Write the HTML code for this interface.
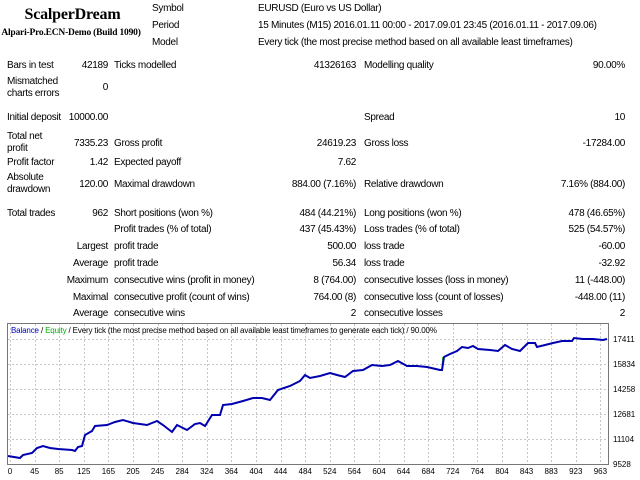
<!DOCTYPE html>
<html><head><meta charset="utf-8"><style>
body{margin:0;width:640px;height:480px;background:#fff;position:relative;overflow:hidden;font-family:"Liberation Sans",sans-serif;font-size:10px;letter-spacing:-0.3px;color:#000}
.t{position:absolute;white-space:nowrap;line-height:12px}
.r{position:absolute;white-space:nowrap;line-height:12px;text-align:right}
.ttl{position:absolute;font-family:"Liberation Serif",serif;font-weight:bold;white-space:nowrap;text-align:center;letter-spacing:-0.2px}
</style></head><body>
<div class="ttl" style="left:0;width:145px;top:6px;font-size:16px">ScalperDream</div>
<div class="ttl" style="left:0;width:142px;top:28px;font-size:9.5px">Alpari-Pro.ECN-Demo (Build 1090)</div>
<div class="t" style="left:152px;top:3px">Symbol</div>
<div class="t" style="left:152px;top:20px">Period</div>
<div class="t" style="left:152px;top:37px">Model</div>
<div class="t" style="left:258px;top:3px">EURUSD (Euro vs US Dollar)</div>
<div class="t" style="left:258px;top:20px">15 Minutes (M15) 2016.01.11 00:00 - 2017.09.01 23:45 (2016.01.11 - 2017.09.06)</div>
<div class="t" style="left:258px;top:37px">Every tick (the most precise method based on all available least timeframes)</div>

<div class="t" style="left:7px;top:60px">Bars in test</div><div class="r" style="right:532px;top:60px">42189</div>
<div class="t" style="left:114px;top:60px">Ticks modelled</div><div class="r" style="right:284px;top:60px">41326163</div>
<div class="t" style="left:364px;top:60px">Modelling quality</div><div class="r" style="right:15px;top:60px">90.00%</div>
<div class="t" style="left:7px;top:76px">Mismatched<br>charts errors</div><div class="r" style="right:532px;top:82px">0</div>
<div class="t" style="left:7px;top:112px">Initial deposit</div><div class="r" style="right:532px;top:112px">10000.00</div>
<div class="t" style="left:364px;top:112px">Spread</div><div class="r" style="right:15px;top:112px">10</div>
<div class="t" style="left:7px;top:131px">Total net<br>profit</div><div class="r" style="right:532px;top:138px">7335.23</div>
<div class="t" style="left:114px;top:138px">Gross profit</div><div class="r" style="right:284px;top:138px">24619.23</div>
<div class="t" style="left:364px;top:138px">Gross loss</div><div class="r" style="right:15px;top:138px">-17284.00</div>
<div class="t" style="left:7px;top:157px">Profit factor</div><div class="r" style="right:532px;top:157px">1.42</div>
<div class="t" style="left:114px;top:157px">Expected payoff</div><div class="r" style="right:284px;top:157px">7.62</div>
<div class="t" style="left:7px;top:172px">Absolute<br>drawdown</div><div class="r" style="right:532px;top:179px">120.00</div>
<div class="t" style="left:114px;top:179px">Maximal drawdown</div><div class="r" style="right:284px;top:179px">884.00 (7.16%)</div>
<div class="t" style="left:364px;top:179px">Relative drawdown</div><div class="r" style="right:15px;top:179px">7.16% (884.00)</div>
<div class="t" style="left:7px;top:208px">Total trades</div><div class="r" style="right:532px;top:208px">962</div>
<div class="t" style="left:114px;top:208px">Short positions (won %)</div><div class="r" style="right:284px;top:208px">484 (44.21%)</div>
<div class="t" style="left:364px;top:208px">Long positions (won %)</div><div class="r" style="right:15px;top:208px">478 (46.65%)</div>
<div class="t" style="left:114px;top:224px">Profit trades (% of total)</div><div class="r" style="right:284px;top:224px">437 (45.43%)</div>
<div class="t" style="left:364px;top:224px">Loss trades (% of total)</div><div class="r" style="right:15px;top:224px">525 (54.57%)</div>
<div class="r" style="right:532px;top:241px">Largest</div>
<div class="t" style="left:114px;top:241px">profit trade</div><div class="r" style="right:284px;top:241px">500.00</div>
<div class="t" style="left:364px;top:241px">loss trade</div><div class="r" style="right:15px;top:241px">-60.00</div>
<div class="r" style="right:532px;top:258px">Average</div>
<div class="t" style="left:114px;top:258px">profit trade</div><div class="r" style="right:284px;top:258px">56.34</div>
<div class="t" style="left:364px;top:258px">loss trade</div><div class="r" style="right:15px;top:258px">-32.92</div>
<div class="r" style="right:532px;top:275px">Maximum</div>
<div class="t" style="left:114px;top:275px">consecutive wins (profit in money)</div><div class="r" style="right:284px;top:275px">8 (764.00)</div>
<div class="t" style="left:364px;top:275px">consecutive losses (loss in money)</div><div class="r" style="right:15px;top:275px">11 (-448.00)</div>
<div class="r" style="right:532px;top:292px">Maximal</div>
<div class="t" style="left:114px;top:292px">consecutive profit (count of wins)</div><div class="r" style="right:284px;top:292px">764.00 (8)</div>
<div class="t" style="left:364px;top:292px">consecutive loss (count of losses)</div><div class="r" style="right:15px;top:292px">-448.00 (11)</div>
<div class="r" style="right:532px;top:308px">Average</div>
<div class="t" style="left:114px;top:308px">consecutive wins</div><div class="r" style="right:284px;top:308px">2</div>
<div class="t" style="left:364px;top:308px">consecutive losses</div><div class="r" style="right:15px;top:308px">2</div>

<svg width="640" height="480" style="position:absolute;left:0;top:0;letter-spacing:0" font-family="Liberation Sans, sans-serif">
<g stroke="#c8c8c8" stroke-dasharray="2,2" stroke-width="1">
<line x1="8" y1="339.5" x2="608" y2="339.5"/><line x1="8" y1="364.5" x2="608" y2="364.5"/><line x1="8" y1="389.5" x2="608" y2="389.5"/><line x1="8" y1="414.5" x2="608" y2="414.5"/><line x1="8" y1="439.5" x2="608" y2="439.5"/>
<g id="vg"></g>
</g>
<rect x="7.5" y="323.5" width="601" height="141" fill="none" stroke="#777" stroke-width="1"/>
<g font-size="8" fill="#000">
<text x="613" y="342">17411</text><text x="613" y="367">15834</text><text x="613" y="392">14258</text><text x="613" y="417">12681</text><text x="613" y="442">11104</text><text x="613" y="467">9528</text>
</g>
<g id="xl" font-size="8" text-anchor="middle"></g>
<text x="11" y="333" font-size="8" letter-spacing="-0.15"><tspan fill="#0000c0">Balance</tspan> / <tspan fill="#00b000">Equity</tspan> / Every tick (the most precise method based on all available least timeframes to generate each tick) / 90.00%</text>
<line x1="443" y1="357" x2="442" y2="371" stroke="#00c000" stroke-width="1.5"/>
<polyline fill="none" stroke="#0000b0" stroke-width="2" points="8,456 20,458 23,455 32,453 37,448 43,446 50,448 58,449 72,450 75,451 78,447 82,446 85,435 92,431 95,426 107,425 115,422 123,420 133,423 147,425 157,421 163,425 172,432 177,425 187,430 195,424 200,423 205,426 212,415 220,415 223,405 232,404 243,401 253,398 262,398 270,400 278,390 290,386 300,381 305,375 310,378 320,376 330,373 337,375 345,377 353,371 363,370 372,365 382,366 390,365 398,361 407,366 417,366 427,367 440,370 442,370 444,357 450,354 457,351 462,347 468,348 473,346 478,349 490,350 498,351 505,345 512,349 520,351 528,343 535,343 537,347 545,345 553,343 562,341 572,341 574,338 583,339 593,339 603,340 607,339"/>
</svg>
<script>
var lbl=[0,45,85,125,165,205,245,284,324,364,404,444,484,524,564,604,644,684,724,764,804,843,883,923,963];
var vg=document.getElementById('vg'),xl=document.getElementById('xl'),ns='http://www.w3.org/2000/svg';
lbl.forEach(function(v,i){var x=10+i*24.6;
var l=document.createElementNS(ns,'line');l.setAttribute('x1',Math.round(x)+.5);l.setAttribute('x2',Math.round(x)+.5);l.setAttribute('y1',324);l.setAttribute('y2',464);vg.appendChild(l);
var t=document.createElementNS(ns,'text');t.setAttribute('x',x);t.setAttribute('y',474);t.textContent=v;xl.appendChild(t);});
</script>
</body></html>
